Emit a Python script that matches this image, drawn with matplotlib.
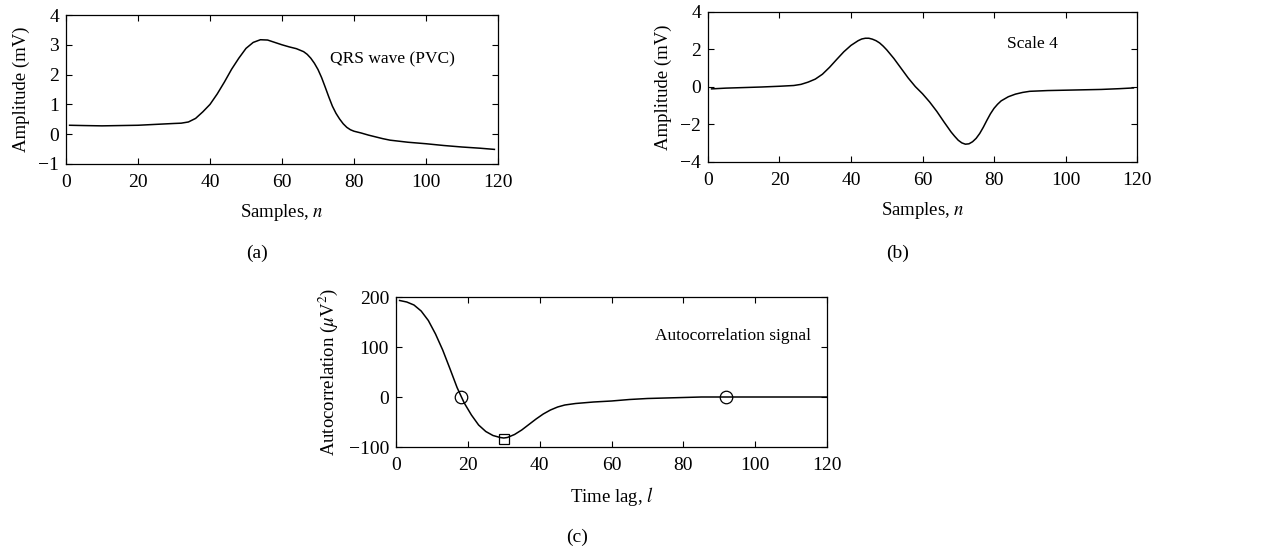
import matplotlib
matplotlib.use("Agg")
import matplotlib.pyplot as plt

# ---- data: panel (a) QRS wave (PVC)
qrs_n = [1, 5, 10, 15, 20, 25, 30, 32, 34, 36, 38, 40, 42, 44, 46, 48, 50, 52, 54, 56,
         58, 60, 62, 64, 66, 67, 68, 69, 70, 71, 72, 73, 74, 75, 76, 77, 78, 79, 80, 82,
         84, 86, 88, 90, 95, 100, 105, 110, 115, 119]
qrs_amp = [0.30, 0.29, 0.28, 0.29, 0.30, 0.33, 0.36, 0.37, 0.41, 0.53, 0.75, 1.00, 1.35,
           1.75, 2.18, 2.55, 2.88, 3.08, 3.17, 3.16, 3.08, 3.00, 2.93, 2.87, 2.77, 2.68,
           2.55, 2.38, 2.17, 1.90, 1.58, 1.25, 0.94, 0.70, 0.51, 0.35, 0.23, 0.15, 0.10,
           0.04, -0.03, -0.09, -0.15, -0.20, -0.27, -0.32, -0.38, -0.43, -0.47, -0.51]

# ---- data: panel (b) Scale 4
sc_n = [1, 5, 10, 15, 20, 24, 26, 28, 30, 32, 34, 36, 38, 40, 42, 43, 44, 45, 46, 47,
        48, 49, 50, 52, 54, 56, 58, 60, 62, 64, 66, 68, 69, 70, 71, 72, 73, 74, 75, 76,
        77, 78, 79, 80, 81, 82, 84, 86, 88, 90, 95, 100, 105, 110, 115, 119]
sc_amp = [-0.10, -0.06, -0.03, 0.00, 0.04, 0.08, 0.14, 0.26, 0.42, 0.68, 1.05, 1.47,
          1.88, 2.22, 2.47, 2.56, 2.60, 2.60, 2.55, 2.47, 2.35, 2.18, 1.98, 1.52, 1.00,
          0.48, 0.02, -0.36, -0.80, -1.30, -1.86, -2.40, -2.63, -2.84, -2.98, -3.05,
          -3.03, -2.92, -2.74, -2.48, -2.15, -1.78, -1.43, -1.14, -0.92, -0.74, -0.52,
          -0.38, -0.29, -0.23, -0.19, -0.17, -0.15, -0.13, -0.09, -0.05]

# ---- data: panel (c) autocorrelation
ac_l = [1, 3, 5, 7, 9, 11, 13, 15, 17, 19, 21, 23, 25, 27, 29, 30, 31, 33, 35, 37, 39,
        41, 43, 45, 47, 50, 55, 60, 65, 70, 75, 80, 85, 90, 100, 110, 120]
ac_val = [193, 190, 184, 172, 153, 126, 94, 57, 19, -12, -36, -56, -69, -77, -81, -82,
          -81, -75, -66, -55, -44, -34, -26, -20, -16, -13, -10, -8, -5, -3, -2, -1, 0,
          0, 0, 0, 0]
zero_l = [18, 92]
zero_val = [0, 0]
min_l = [30]
min_val = [-83]

x_ticks = [0, 20, 40, 60, 80, 100, 120]

plt.rcParams['font.family'] = ['Liberation Serif', 'DejaVu Serif']
plt.rcParams['mathtext.fontset'] = 'stix'
FS_TICK = 14
FS_LAB = 13.5
FS_NOTE = 12.5
FS_TAG = 14

W, H = 1284, 554
fig = plt.figure(figsize=(W / 100, H / 100), dpi=100)


def ax_px(left, top, right, bottom):
    return fig.add_axes([left / W, 1 - bottom / H, (right - left) / W, (bottom - top) / H])


def style(ax):
    ax.tick_params(direction='in', top=True, right=True, length=4, width=0.8,
                   labelsize=FS_TICK)
    ax.tick_params(axis='x', pad=7)
    ax.tick_params(axis='y', pad=5)
    for s in ax.spines.values():
        s.set_linewidth(0.9)


# (a)
axa = ax_px(66, 15, 498, 164)
axa.plot(qrs_n, qrs_amp, color='black', lw=1.1)
axa.set_xlim(0, 120)
axa.set_ylim(-1, 4)
axa.set_xticks(x_ticks)
axa.set_yticks([-1, 0, 1, 2, 3, 4])
axa.set_yticklabels(['\u22121', '0', '1', '2', '3', '4'])
axa.set_xlabel('Samples, $\\mathit{n}$', fontsize=FS_LAB, labelpad=8)
axa.set_ylabel('Amplitude (mV)', fontsize=FS_LAB, labelpad=6)
axa.text(73.4, 2.5, 'QRS wave (PVC)', fontsize=FS_NOTE, va='center', ha='left')
style(axa)
fig.text(257 / W, 1 - 253 / H, '(a)', fontsize=FS_TAG, ha='center', va='center')

# (b)
axb = ax_px(708, 12, 1137, 162)
axb.plot(sc_n, sc_amp, color='black', lw=1.1)
axb.set_xlim(0, 120)
axb.set_ylim(-4, 4)
axb.set_xticks(x_ticks)
axb.set_yticks([-4, -2, 0, 2, 4])
axb.set_yticklabels(['\u22124', '\u22122', '0', '2', '4'])
axb.set_xlabel('Samples, $\\mathit{n}$', fontsize=FS_LAB, labelpad=8)
axb.set_ylabel('Amplitude (mV)', fontsize=FS_LAB, labelpad=6)
axb.text(83.6, 2.3, 'Scale 4', fontsize=FS_NOTE, va='center', ha='left')
style(axb)
fig.text(898 / W, 1 - 253 / H, '(b)', fontsize=FS_TAG, ha='center', va='center')

# (c)
axc = ax_px(396, 297, 827, 447)
axc.plot(ac_l, ac_val, color='black', lw=1.1)
axc.plot(zero_l, zero_val, linestyle='none', marker='o', markersize=9,
         markerfacecolor='none', markeredgecolor='black', markeredgewidth=0.9)
axc.plot(min_l, min_val, linestyle='none', marker='s', markersize=7,
         markerfacecolor='none', markeredgecolor='black', markeredgewidth=0.9)
axc.set_xlim(0, 120)
axc.set_ylim(-100, 200)
axc.set_xticks(x_ticks)
axc.set_yticks([-100, 0, 100, 200])
axc.set_yticklabels(['\u2212100', '0', '100', '200'])
axc.set_xlabel('Time lag, $\\mathit{l}$', fontsize=FS_LAB, labelpad=8)
axc.set_ylabel('Autocorrelation ($\\mu$V$^2$)', fontsize=FS_LAB, labelpad=6)
axc.text(72.1, 121, 'Autocorrelation signal', fontsize=FS_NOTE, va='center', ha='left')
style(axc)
fig.text(577 / W, 1 - 537 / H, '(c)', fontsize=FS_TAG, ha='center', va='center')

fig.savefig('out.png', dpi=100)
